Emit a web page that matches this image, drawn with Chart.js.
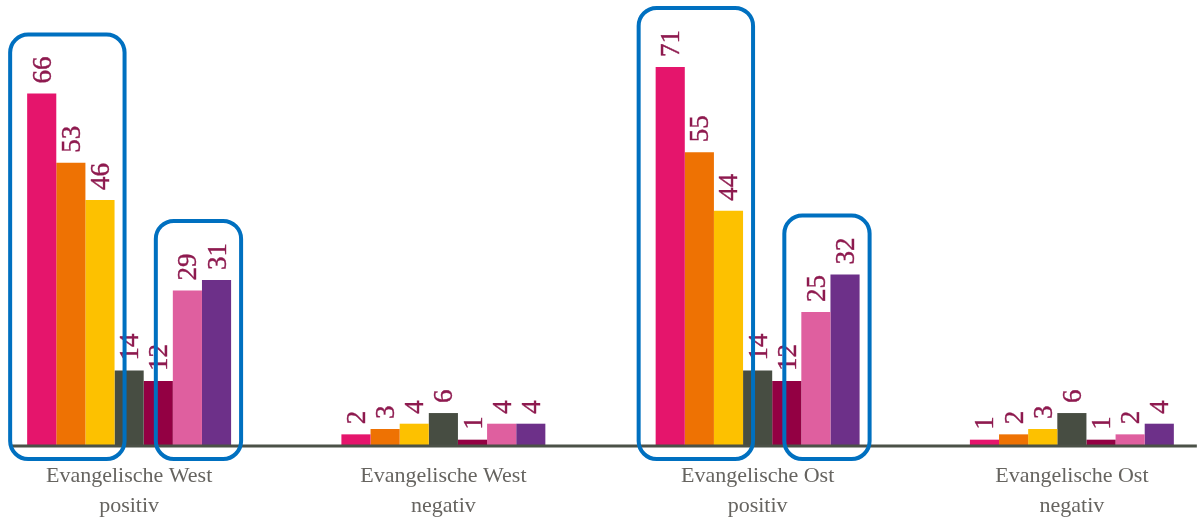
<!DOCTYPE html>
<html>
<head>
<meta charset="utf-8">
<script src="https://cdn.jsdelivr.net/npm/chart.js@4.4.0/dist/chart.umd.min.js"></script>
<style>
  html, body { margin: 0; padding: 0; background: #fff; overflow: hidden; }
  #wrap { position: absolute; left: -28px; top: 0; width: 1257px; height: 526px; }
</style>
</head>
<body>
<div id="wrap"><canvas id="chart"></canvas></div>
<script>
const categories = [
  ["Evangelische West", "positiv"],
  ["Evangelische West", "negativ"],
  ["Evangelische Ost", "positiv"],
  ["Evangelische Ost", "negativ"],
];

const series1 = [66, 2, 71, 1];
const series2 = [53, 3, 55, 2];
const series3 = [46, 4, 44, 3];
const series4 = [14, 6, 14, 6];
const series5 = [12, 1, 12, 1];
const series6 = [29, 4, 25, 2];
const series7 = [31, 4, 32, 4];

const seriesColors = ["#e5156c", "#ee7203", "#fdc100", "#474d42", "#930043", "#df5f9f", "#6d3089"];

// highlighted bar runs: [category index, first series, last series]
const highlights = [
  [0, 0, 2],
  [0, 5, 6],
  [2, 0, 2],
  [2, 5, 6],
];

const labelColor = "#8e1a4f";
const serif = "'Liberation Serif', 'DejaVu Serif', serif";

const valueLabels = {
  id: "valueLabels",
  afterDatasetsDraw(chart) {
    const ctx = chart.ctx;
    ctx.save();
    ctx.font = `27px ${serif}`;
    ctx.fillStyle = labelColor;
    ctx.strokeStyle = labelColor;
    ctx.lineWidth = 0.4;
    ctx.textAlign = "left";
    ctx.textBaseline = "alphabetic";
    chart.data.datasets.forEach((ds, i) => {
      chart.getDatasetMeta(i).data.forEach((bar, j) => {
        ctx.save();
        ctx.translate(bar.x, bar.y - 10);
        ctx.rotate(-Math.PI / 2);
        ctx.fillText(String(ds.data[j]), 0, 9);
        ctx.strokeText(String(ds.data[j]), 0, 9);
        ctx.restore();
      });
    });
    ctx.restore();
  },
};

const baseLine = {
  id: "baseLine",
  afterDatasetsDraw(chart) {
    const ctx = chart.ctx;
    const metas = chart.data.datasets.map((_, i) => chart.getDatasetMeta(i));
    const first = metas[0].data[0];
    const last = metas[metas.length - 1].data[categories.length - 1];
    const y = chart.scales.y.getPixelForValue(0) + 1;
    ctx.save();
    ctx.strokeStyle = "#4b5147";
    ctx.lineWidth = 3;
    ctx.beginPath();
    ctx.moveTo(first.x - first.width / 2 - 17, y);
    ctx.lineTo(last.x + last.width / 2 + 23, y);
    ctx.stroke();
    ctx.restore();
  },
};

const highlightBoxes = {
  id: "highlightBoxes",
  afterDraw(chart) {
    const ctx = chart.ctx;
    const base = chart.scales.y.getPixelForValue(0);
    ctx.save();
    ctx.strokeStyle = "#0070c0";
    ctx.lineWidth = 4;
    highlights.forEach(([cat, from, to]) => {
      let left = Infinity, right = -Infinity, top = Infinity;
      for (let s = from; s <= to; s++) {
        const bar = chart.getDatasetMeta(s).data[cat];
        left = Math.min(left, bar.x - bar.width / 2);
        right = Math.max(right, bar.x + bar.width / 2);
        top = Math.min(top, bar.y);
      }
      const x0 = left - 17, x1 = right + 10, y0 = top - 59, y1 = base + 14;
      ctx.beginPath();
      ctx.roundRect(x0, y0, x1 - x0, y1 - y0, 18);
      ctx.stroke();
    });
    ctx.restore();
  },
};

const allSeries = [series1, series2, series3, series4, series5, series6, series7];

new Chart(document.getElementById("chart"), {
  type: "bar",
  data: {
    labels: categories,
    datasets: allSeries.map((values, i) => ({
      label: `Reihe ${i + 1}`,
      data: values,
      backgroundColor: seriesColors[i],
      borderWidth: 0,
      barPercentage: 1,
      categoryPercentage: 0.649,
    })),
  },
  options: {
    responsive: true,
    maintainAspectRatio: false,
    animation: false,
    devicePixelRatio: 1,
    layout: { padding: { top: 19, left: 0, right: 0, bottom: 0 } },
    plugins: {
      legend: { display: false },
      tooltip: { enabled: false },
    },
    scales: {
      x: {
        grid: { display: false, drawTicks: false },
        border: { display: false },
        ticks: {
          color: "#666460",
          font: { family: serif, size: 22, lineHeight: 1.36 },
          padding: 16,
          maxRotation: 0,
          autoSkip: false,
        },
        afterFit(scale) { scale.height = 81; },
      },
      y: { display: false, min: 0, max: 80 },
    },
  },
  plugins: [valueLabels, baseLine, highlightBoxes],
});
</script>
</body>
</html>
